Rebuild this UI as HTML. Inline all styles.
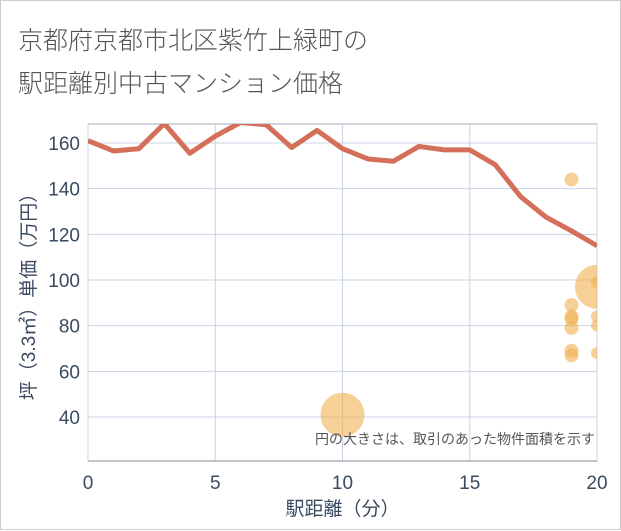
<!DOCTYPE html>
<html><head><meta charset="utf-8"><style>
body{margin:0;background:#fff;}
#wrap{position:relative;width:621px;height:530px;box-sizing:border-box;border:1px solid #ccc;background:#fff;font-family:"Liberation Sans","Noto Sans CJK JP",sans-serif;}
.title{position:absolute;left:17px;color:#555;font-size:25px;line-height:34px;font-weight:300;white-space:nowrap;}
</style></head><body>
<div id="wrap">
<div class="title" style="top:23px">京都府京都市北区紫竹上緑町の</div>
<div class="title" style="top:66px">駅距離別中古マンション価格</div>
<svg id="chart" width="621" height="530" style="position:absolute;left:0;top:0"></svg>
</div>
<script>
const lineX=[0,1,2,3,4,5,6,7,8,9,10,11,12,13,14,15,16,17,18,19,20];
const lineY=[161,156.5,157.5,168.5,155.5,163,169,168,158,165.5,157.5,153,152,158.5,157,157,150.5,136.5,127.5,121.5,115];
const bubX=[10,19,20,20,19,19,19,19,20,20,19,19,20];
const bubY=[41,144,97,99,89,84,83,79,84,80,69,67,68];
const bubR=[22,7,22,6,7,7,7,7,6,6,7,7,6];
const xTicks=[0,5,10,15,20];
const yTicks=[40,60,80,100,120,140,160];
const NS="http://www.w3.org/2000/svg";
const svg=document.getElementById('chart');
const L=87,R=596,T=123,B=460;
const sx=v=>L+(v-0)/20*(R-L);
const sy=v=>142+(160-v)*(274/120);
function mk(t,a,p){const e=document.createElementNS(NS,t);for(const k in a)e.setAttribute(k,a[k]);(p||svg).appendChild(e);return e;}
const defs=mk('defs',{});
const cp=mk('clipPath',{id:'plotclip'},defs);
mk('rect',{x:L,y:T,width:R-L,height:B-T},cp);
mk('rect',{x:L,y:T,width:R-L,height:B-T,fill:'none',stroke:'#aab','stroke-width':1});
xTicks.forEach(v=>{
 const g=mk('line',{x1:sx(v),x2:sx(v),y1:T,y2:B,stroke:'#c8d4e4','stroke-width':1});
 
 
 const t=mk('text',{x:sx(v),y:488,'text-anchor':'middle','font-size':19,fill:'#3a4a60'});
 t.textContent=v;
 
 
});
yTicks.forEach(v=>{
 const g=mk('line',{x1:L,x2:R,y1:sy(v),y2:sy(v),stroke:'#c8d4e4','stroke-width':1});
 
 
 const t=mk('text',{x:79,y:sy(v)+7,'text-anchor':'end','font-size':19,fill:'#3a4a60'});
 t.textContent=v;
 
 
});
mk('line',{x1:L,x2:R,y1:B,y2:B,stroke:'#889','stroke-width':1});
const plot=mk('g',{'clip-path':'url(#plotclip)'});
const pts=lineX.map((x,i)=>sx(x)+','+sy(lineY[i])).join(' ');
const pl=mk('polyline',{points:pts,fill:'none',stroke:'#d4705a','stroke-width':5,'stroke-linejoin':'round'},plot);


bubX.forEach((x,i)=>{
 const c=mk('circle',{cx:sx(x),cy:sy(bubY[i]),r:bubR[i],fill:'#f0b050','fill-opacity':0.6},plot);
 
 
});
const note=mk('text',{x:594,y:443,'text-anchor':'end','font-size':14,fill:'#555'});
note.textContent='円の大きさは、取引のあった物件面積を示す';


const xt=mk('text',{x:sx(10),y:514,'text-anchor':'middle','font-size':19,fill:'#3a4a60'});
xt.textContent='駅距離（分）';


const yt=mk('text',{x:0,y:0,'text-anchor':'middle','font-size':19,fill:'#3a4a60',transform:'translate(34,291) rotate(-90)'});
yt.textContent='坪（3.3㎡）単価（万円）';


</script>
</body></html>
